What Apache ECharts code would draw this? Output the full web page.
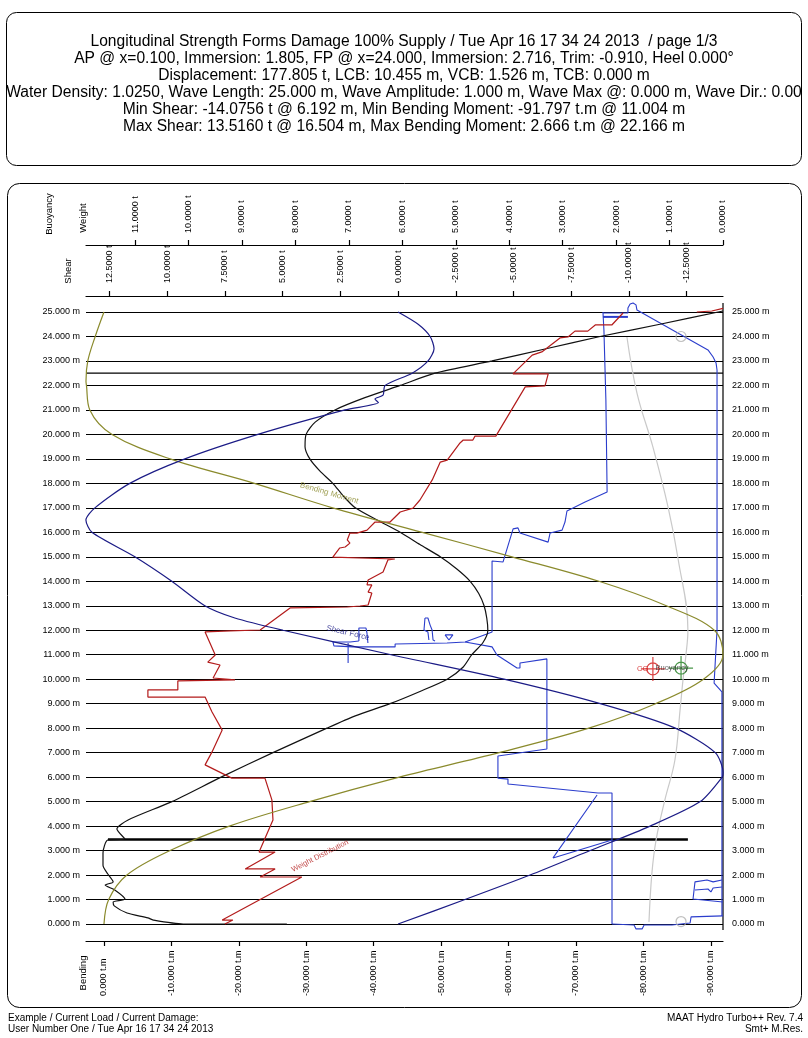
<!DOCTYPE html>
<html><head><meta charset="utf-8">
<script src="https://cdn.jsdelivr.net/npm/echarts@6/dist/echarts.min.js"></script>
<style>html,body{margin:0;padding:0;background:#fff}#c{width:808px;height:1038px}</style>
</head><body><div id="c"></div>
<script>
// ---------- text ----------
const titleLines = [
  'Longitudinal Strength Forms Damage 100% Supply / Tue Apr 16 17 34 24 2013  / page 1/3',
  'AP @ x=0.100, Immersion: 1.805, FP @ x=24.000, Immersion: 2.716, Trim: -0.910, Heel 0.000\u00b0',
  'Displacement: 177.805 t, LCB: 10.455 m, VCB: 1.526 m, TCB: 0.000 m',
  'Water Density: 1.0250, Wave Length: 25.000 m, Wave Amplitude: 1.000 m, Wave Max @: 0.000 m, Wave Dir.: 0.00',
  'Min Shear: -14.0756 t @ 6.192 m, Min Bending Moment: -91.797 t.m @ 11.004 m',
  'Max Shear: 13.5160 t @ 16.504 m, Max Bending Moment: 2.666 t.m @ 22.166 m'
];
const footerLeft = ['Example / Current Load / Current Damage:', 'User Number One / Tue Apr 16 17 34 24 2013'];
const footerRight = ['MAAT Hydro Turbo++ Rev. 7.4', 'Smt+ M.Res.'];

// ---------- axes ----------
const weightRange = [0, 11.918];
const shearRange = [-14.0756, 13.516];
const bendingRange = [-91.797, 2.666];
const heightRange = [-0.204, 25.817];
const weightTicks = [0, 1, 2, 3, 4, 5, 6, 7, 8, 9, 10, 11];
const shearTicks = [12.5, 10, 7.5, 5, 2.5, 0, -2.5, -5, -7.5, -10, -12.5];
const bendingTicks = [0, -10, -20, -30, -40, -50, -60, -70, -80, -90];

// ---------- series data: [value, position m] ----------
const bendingMoment = [[0,0],[-0.7,1],[-3.4,2],[-9.8,3],[-18.6,4],[-30.5,5],[-43.8,6],[-58.6,7],[-71.9,8],[-81.8,9],[-88.9,10],[-91.8,11],[-90.5,12],[-83.4,13],[-73.4,14],[-60.5,15],[-47.2,16],[-33.9,17],[-22.3,18],[-9.8,19],[-1.2,20],[2.1,21],[2.6,22],[2.67,22.17],[2.4,23],[1.3,24],[0,25]];

const shearForce = [[0,25],[-0.87,24.5],[-1.39,24],[-1.56,23.5],[-1.30,23],[-0.61,22.5],[0.56,22],[0.65,21.6],[1.0,21.45],[0.85,21.3],[2.3,21],[6.07,20],[9.23,19],[11.62,18],[13.13,17],[13.52,16.5],[13.26,16],[11.4,15],[9.8,14],[8.37,13],[7.07,12.5],[4.98,12],[0.3,11],[-4.59,10],[-8.76,9],[-12.01,8],[-13.74,7],[-14.08,6.19],[-14.04,6],[-13.09,5],[-10.92,4],[-8.32,3],[-5.72,2],[-2.9,1],[0,0]];

const buoyancy = [[0,25.04],[1.18,24.5],[2.30,24],[3.31,23.5],[4.32,23],[5.39,22.5],[6.04,22],[6.70,21.5],[7.26,21],[7.63,20.5],[7.80,20],[7.82,19.5],[7.73,19],[7.54,18.5],[7.30,18],[7.11,17.5],[6.88,17],[6.47,16.5],[6.04,16],[5.67,15.5],[5.29,15],[4.98,14.5],[4.73,14],[4.57,13.5],[4.47,13],[4.42,12.5],[4.40,12],[4.49,11.5],[4.70,11],[4.86,10.5],[5.16,10],[5.67,9.5],[6.23,9],[6.88,8.5],[7.41,8],[8.42,7],[9.39,6],[10.31,5],[11.13,4.25],[11.34,3.88],[11.19,3.47],[11.51,3.43],[11.60,2.9],[11.60,2.4],[11.51,2.04],[11.41,1.72],[11.56,1.59],[11.38,1.39],[11.19,1.02],[11.41,0.9],[11.39,0.74],[11.15,0.45],[10.76,0.25],[10.66,0.16],[10.10,0],[8.16,0]];

const weightDistributionBow = [[0,25.15],[0.21,25.04],[0.49,25.0]];
const weightDistribution = [[1.87,24.96],[2.08,24.47],[2.39,24.47],[2.53,24.22],[2.77,24.22],[2.90,23.98],[3.05,23.94],[3.39,23.37],[3.57,23.24],[3.93,22.47],[3.27,22.47],[3.33,21.98],[3.70,21.94],[4.25,19.93],[4.64,19.93],[4.68,19.77],[4.86,19.77],[4.92,19.65],[5.16,18.95],[5.29,18.87],[5.44,18.14],[5.67,17.32],[5.80,16.99],[6.04,16.83],[6.23,16.42],[6.51,16.42],[6.66,16.09],[6.85,15.97],[6.98,15.97],[7.03,15.69],[6.98,15.56],[7.07,15.40],[7.17,15.36],[7.30,14.99],[6.14,14.91],[6.27,14.87],[6.36,14.38],[6.64,14.05],[6.66,13.85],[6.57,13.85],[6.64,13.56],[6.57,13.52],[6.64,13.03],[6.79,12.99],[7.03,12.95],[8.10,12.91],[8.66,12.01],[9.22,11.97],[9.69,11.93],[9.50,10.99],[9.64,10.70],[9.41,10.58],[9.54,10.05],[9.13,9.97],[10.20,9.93],[10.20,9.56],[10.76,9.56],[10.76,9.27],[9.69,9.27],[9.56,8.66],[9.37,7.92],[9.56,7.03],[9.69,6.50],[9.19,5.96],[8.57,5.96],[8.44,5.07],[8.42,4.25],[8.68,2.94],[8.38,2.94],[8.94,2.25],[8.38,2.25],[8.66,1.92],[7.88,1.92],[9.37,0.16],[9.17,0.16],[9.32,0]];

// ship profile: [height above base m, position m]
const profileDeck = [[4.70,25.0],[4.66,24.26],[4.58,21.41],[4.53,17.65],[5.43,17.24],[6.17,16.87],[6.25,16.42],[6.37,16.09],[6.86,15.97],[6.94,15.60],[8.09,15.97],[8.17,16.18],[8.37,16.14],[8.78,14.79],[9.23,14.83],[9.23,11.93],[9.44,11.85],[10.33,11.52],[11.07,11.48],[13.19,11.44],[13.19,11.32],[14.91,11.32],[15.69,11.36],[15.73,11.52],[15.03,11.52],[14.67,11.56]];
const profileHouse = [[14.67,11.56],[14.67,12.09],[14.38,12.09],[14.34,11.89],[14.30,11.48]];
const profilePost = [[15.11,11.48],[15.11,10.66]];
const profileMastA = [[11.97,12.50],[11.85,12.50],[11.76,12.21],[11.68,12.01],[11.64,11.60],[11.56,11.56]];
const profileMastB = [[11.97,12.50],[12.01,12.01],[11.85,11.93],[11.81,11.60]];
const profileLight = [[11.15,11.81],[10.83,11.81],[10.99,11.60],[11.15,11.81]];
const profileLower = [[10.33,11.52],[9.23,11.32],[9.03,10.99],[8.21,10.46],[8.09,10.46],[8.09,10.66],[6.99,10.83],[6.99,7.15],[8.99,6.86],[8.99,5.96],[8.58,5.92],[8.58,5.72],[4.90,5.35],[4.33,5.35],[4.33,0]];
const profileTransom = [[4.94,5.27],[6.74,2.70],[4.33,3.43]];
const profileBottom = [[4.33,0],[3.43,-0.04],[3.35,-0.20],[3.10,-0.20],[3.02,-0.04],[1.88,-0.04],[1.84,0.04],[1.14,0.04],[1.10,0.29],[-0.20,0.33]];
const profileRudder = [[-0.20,0.90],[1.02,1.02],[0.94,1.72],[0.45,1.80],[0.20,1.72],[-0.16,1.80]];
const profileProp = [[0.94,1.39],[0.41,1.43],[0.29,1.31],[0.20,1.47],[-0.16,1.51]];
const profileBowKeel = [[4.70,24.96],[3.68,24.96],[3.68,25.16],[3.59,25.33],[3.47,25.37],[3.35,25.29],[3.31,25.08],[3.27,25.0],[0.41,23.45],[0.20,23.16],[0.08,22.92],[0.04,22.63],[0.04,12.01],[0.16,9.84],[-0.16,9.48],[-0.16,0.33]];
const profileBowBar = [[4.70,24.80],[3.68,24.80]];
const waterline = [[3.72,23.98],[3.31,21.69],[2.66,19.49],[2.04,17.03],[1.63,14.91],[1.23,12.01],[1.31,10.99],[1.43,9.97],[1.55,8.74],[1.76,6.70],[2.17,5.07],[2.53,3.43],[2.70,2.08],[2.82,0.08]];
const bulkheadLine = [[24.92,3.45],[1.23,3.45]];
const frameLine = [[25.817,22.5],[-0.204,22.5]];
const zeroLine = [[0,-0.25],[0,25.37]];
const draftMarks = [[1.51,24.0],[1.51,0.1]];
const centreGravity = [[2.66,10.42]];
const centreBuoyancy = [[1.51,10.455]];

const C = {olive:'#8a8a2c', red:'#b31b1b', navy:'#1b1b86', blue:'#2b3dcc', gray:'#c9c9c9'};
const FONT = '"Liberation Sans", Arial, sans-serif';

function line(data, xi, color, width, extra) {
  return Object.assign({type:'line', data, xAxisIndex:xi, yAxisIndex:0, symbol:'none', clip:false, silent:true,
    lineStyle:{color, width}, z:3}, extra || {});
}

const axisLab = (d, unit, margin, ticks) => ({show:true, fontSize:9, color:'#000', fontFamily:FONT, rotate:90, align:'left', verticalAlign:'middle', margin,
  customValues:ticks, formatter: v => v.toFixed(d) + unit});
const lineOn = {show:true, onZero:false, lineStyle:{color:'#000', width:1.2}};
const tickOn = ticks => ({show:true, length:5, customValues:ticks, lineStyle:{color:'#000', width:1.2}});
const noLabel = {show:false};

const crossPath = 'path://M0,12 L24,12 M12,0 L12,24 M18,12 A6,6 0 1,1 6,12 A6,6 0 1,1 18,12';

const chart = echarts.init(document.getElementById('c'), null, {renderer:'canvas'});
chart.setOption({
  animation:false,
  backgroundColor:'#fff',
  textStyle:{fontFamily:FONT},
  grid:{left:86, right:85, top:312, bottom:114},
  xAxis:[
    // 0: weight / buoyancy scale (labels)
    {type:'value', position:'top', offset:67, min:weightRange[0], max:weightRange[1], inverse:true,
     axisLine:{show:false}, splitLine:{show:false}, axisTick:{show:false}, axisLabel:axisLab(4,' t',12,weightTicks)},
    // 1: shear scale (labels)
    {type:'value', position:'top', offset:16, min:shearRange[0], max:shearRange[1], inverse:true,
     axisLine:{show:false}, splitLine:{show:false}, axisTick:{show:false}, axisLabel:axisLab(4,' t',13,shearTicks)},
    // 2: bending scale
    {type:'value', position:'bottom', offset:17, min:bendingRange[0], max:bendingRange[1], inverse:true,
     axisLine:lineOn, splitLine:{show:false}, axisTick:tickOn(bendingTicks), axisLabel:axisLab(3,' t.m',55,bendingTicks)},
    // 3: profile height scale (hidden)
    {type:'value', show:false, min:heightRange[0], max:heightRange[1], inverse:true, splitLine:{show:false}},
    // 4: weight axis line + ticks
    {type:'value', position:'top', offset:67, min:weightRange[0], max:weightRange[1], inverse:true,
     axisLine:lineOn, splitLine:{show:false}, axisTick:tickOn(weightTicks), axisLabel:noLabel},
    // 5: shear axis line + ticks
    {type:'value', position:'top', offset:16, min:shearRange[0], max:shearRange[1], inverse:true,
     axisLine:lineOn, splitLine:{show:false}, axisTick:tickOn(shearTicks), axisLabel:noLabel}
  ],
  yAxis:[
    {type:'value', min:0, max:25, interval:1, position:'left',
     axisLine:{show:false}, axisTick:{show:false},
     splitLine:{show:true, lineStyle:{color:'#000', width:1.2}},
     axisLabel:{fontSize:9, color:'#000', margin:6, formatter: v => v.toFixed(3) + ' m'}},
    {type:'value', min:0, max:25, interval:1, position:'right',
     axisLine:{show:false}, axisTick:{show:false}, splitLine:{show:false},
     axisLabel:{fontSize:9, color:'#000', margin:9, formatter: v => v.toFixed(3) + ' m'}}
  ],
  series:[
    line(frameLine, 3, '#000', 1.2),
    line(bulkheadLine, 3, '#000', 2.5),
    line(zeroLine, 0, '#000', 1.2),
    line(waterline, 3, C.gray, 1.2, {smooth:0.4}),
    line(profileDeck, 3, C.blue, 1.1),
    line(profileHouse, 3, C.blue, 1.1),
    line(profilePost, 3, C.blue, 1.1),
    line(profileMastA, 3, C.blue, 1.1),
    line(profileMastB, 3, C.blue, 1.1),
    line(profileLight, 3, C.blue, 1.1),
    line(profileLower, 3, C.blue, 1.1),
    line(profileTransom, 3, C.blue, 1.1),
    line(profileBottom, 3, C.blue, 1.1),
    line(profileRudder, 3, C.blue, 1.1),
    line(profileProp, 3, C.blue, 1.1),
    line(profileBowKeel, 3, C.blue, 1.1),
    line(profileBowBar, 3, C.blue, 2),
    line(buoyancy, 0, '#111', 1.2, {smooth:0.25}),
    line(weightDistributionBow, 0, C.red, 1.2),
    line(weightDistribution, 0, C.red, 1.2),
    line(bendingMoment, 2, C.olive, 1.2, {smooth:0.35}),
    line(shearForce, 1, C.navy, 1.2, {smooth:0.25}),
    {type:'scatter', xAxisIndex:3, yAxisIndex:0, data:draftMarks, symbol:'circle', symbolSize:10, silent:true, z:4,
     itemStyle:{color:'rgba(0,0,0,0)', borderColor:'#b0b0b0', borderWidth:1.2}},
    {type:'scatter', xAxisIndex:3, yAxisIndex:0, data:centreGravity, symbol:crossPath, symbolSize:24, silent:true, z:5,
     itemStyle:{color:'rgba(0,0,0,0)', borderColor:'#d01010', borderWidth:1.2},
     label:{show:true, formatter:'CG', position:'left', distance:-8, fontSize:7.5, color:'#d01010'}},
    {type:'scatter', xAxisIndex:3, yAxisIndex:0, data:centreBuoyancy, symbol:crossPath, symbolSize:24, silent:true, z:5,
     itemStyle:{color:'rgba(0,0,0,0)', borderColor:'#1a7a1a', borderWidth:1.2},
     label:{show:true, formatter:'Buoyancy', position:'left', distance:-20, fontSize:7.5, color:'#333'}},
    {type:'scatter', xAxisIndex:2, yAxisIndex:0, symbolSize:0, silent:true, z:6, data:[[-33.4,17.6]],
     label:{show:true, position:'inside', formatter:'Bending Moment', rotate:-16, fontSize:8, color:C.olive}},
    {type:'scatter', xAxisIndex:1, yAxisIndex:0, symbolSize:0, silent:true, z:6, data:[[2.17,11.89]],
     label:{show:true, position:'inside', formatter:'Shear Force', rotate:-13, fontSize:8, color:C.navy}},
    {type:'scatter', xAxisIndex:0, yAxisIndex:0, symbolSize:0, silent:true, z:6, data:[[7.54,2.78]],
     label:{show:true, position:'inside', formatter:'Weight Distribution', rotate:27, fontSize:7.5, color:C.red}}
  ],
  graphic:[
    {type:'rect', shape:{x:6.5, y:12.5, width:795, height:153, r:10}, style:{fill:'none', stroke:'#000', lineWidth:1}, silent:true},
    {type:'rect', shape:{x:7.5, y:183.5, width:794, height:824, r:12}, style:{fill:'none', stroke:'#000', lineWidth:1}, silent:true},
    {type:'text', x:404, y:33, silent:true, style:{text:titleLines.join('\n'), fontSize:15.6, fontFamily:FONT, lineHeight:17, align:'center', verticalAlign:'top', fill:'#000'}},
    {type:'text', x:49, y:214, rotation:Math.PI/2, silent:true, style:{text:'Buoyancy', fontSize:9.5, fontFamily:FONT, align:'center', verticalAlign:'middle', fill:'#000'}},
    {type:'text', x:83, y:218, rotation:Math.PI/2, silent:true, style:{text:'Weight', fontSize:9.5, fontFamily:FONT, align:'center', verticalAlign:'middle', fill:'#000'}},
    {type:'text', x:68, y:271, rotation:Math.PI/2, silent:true, style:{text:'Shear', fontSize:9.5, fontFamily:FONT, align:'center', verticalAlign:'middle', fill:'#000'}},
    {type:'text', x:83, y:973, rotation:Math.PI/2, silent:true, style:{text:'Bending', fontSize:9.5, fontFamily:FONT, align:'center', verticalAlign:'middle', fill:'#000'}},
    {type:'text', x:8, y:1013, silent:true, style:{text:footerLeft.join('\n'), fontSize:10, fontFamily:FONT, lineHeight:11, align:'left', verticalAlign:'top', fill:'#000'}},
    {type:'text', x:803, y:1013, silent:true, style:{text:footerRight.join('\n'), fontSize:10, fontFamily:FONT, lineHeight:11, align:'right', verticalAlign:'top', fill:'#000'}}
  ]
});
</script></body></html>
